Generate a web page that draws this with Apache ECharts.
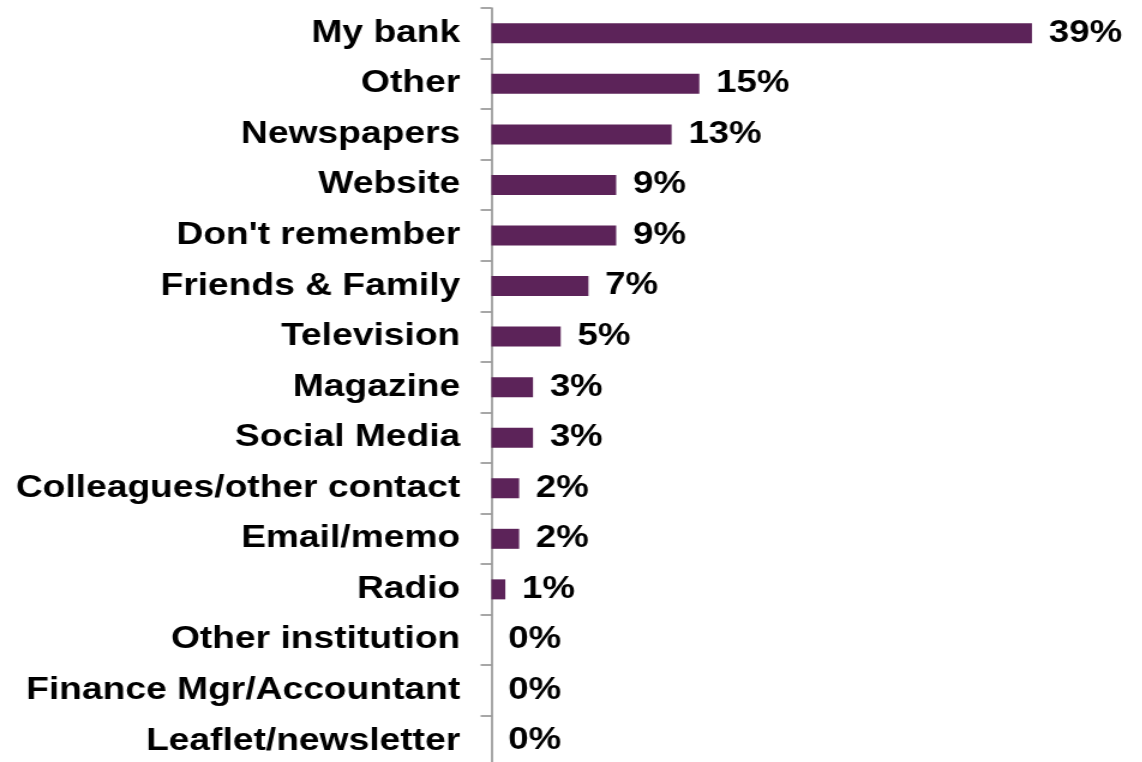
<!DOCTYPE html>
<html>
<head>
<meta charset="utf-8">
<title>Where did you hear about it?</title>
<script src="https://cdn.jsdelivr.net/npm/echarts@6/dist/echarts.min.js"></script>
<style>
  html, body { margin: 0; padding: 0; background: #ffffff; overflow: hidden; height: 762px; }
  /* the chart is laid out narrow and widened horizontally to the page width;
     it runs a little past the bottom edge, where the last band is cut off */
  #chart {
    width: 951.67px;
    height: 780px;
    transform: scaleX(1.2);
    transform-origin: 0 0;
  }
</style>
</head>
<body>
<div id="chart"></div>
<script>
// Sources of awareness, top to bottom
const categories = [
  'My bank',
  'Other',
  'Newspapers',
  'Website',
  "Don't remember",
  'Friends & Family',
  'Television',
  'Magazine',
  'Social Media',
  'Colleagues/other contact',
  'Email/memo',
  'Radio',
  'Other institution',
  'Finance Mgr/Accountant',
  'Leaflet/newsletter'
];

// Share of respondents, percent
const shares = [39, 15, 13, 9, 9, 7, 5, 3, 3, 2, 2, 1, 0, 0, 0];

const chart = echarts.init(document.getElementById('chart'), null, { renderer: 'canvas' });

chart.setOption({
  animation: false,
  backgroundColor: '#ffffff',
  grid: {
    left: 409.5,
    top: 8,
    width: 462,
    height: 758.3,
    containLabel: false
  },
  xAxis: {
    type: 'value',
    min: 0,
    max: 40,
    show: false
  },
  yAxis: {
    type: 'category',
    data: categories,
    inverse: true,
    axisLine: { show: true, lineStyle: { color: '#8a8a8a', width: 1.5 } },
    axisTick: { show: true, length: 9, lineStyle: { color: '#8a8a8a', width: 1.5 } },
    axisLabel: {
      margin: 26,
      color: '#000000',
      fontFamily: '"Liberation Sans", Arial, sans-serif',
      fontWeight: 'bold',
      fontSize: 31
    },
    splitLine: { show: false }
  },
  series: [{
    type: 'bar',
    data: shares,
    barWidth: 20,
    itemStyle: { color: '#5c2359' },
    label: {
      show: true,
      position: 'right',
      distance: 14,
      formatter: '{c}%',
      color: '#000000',
      fontFamily: '"Liberation Sans", Arial, sans-serif',
      fontWeight: 'bold',
      fontSize: 30.5
    }
  }]
});
</script>
</body>
</html>
